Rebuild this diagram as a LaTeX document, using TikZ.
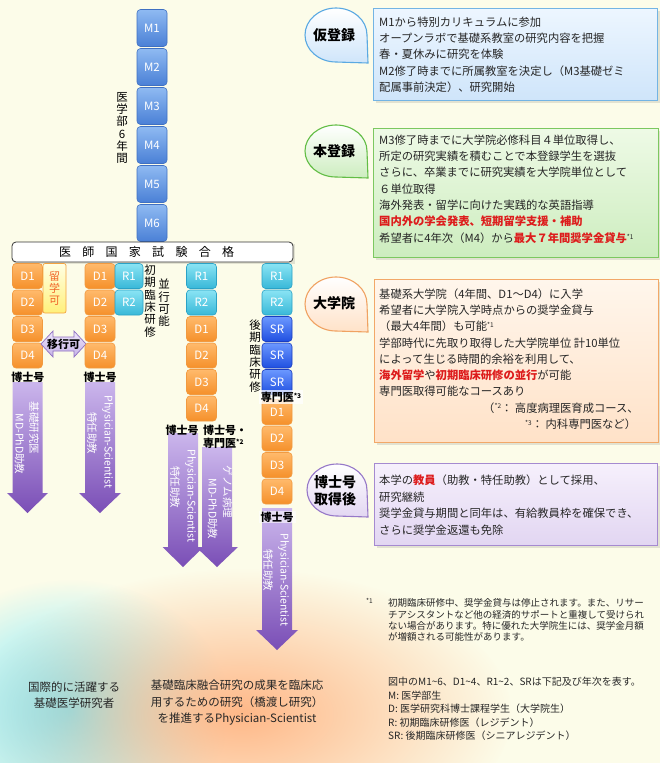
\documentclass[tikz,border=0pt]{standalone}
\usepackage{fontspec}
\setmainfont{Noto Sans CJK JP}
\usetikzlibrary{fadings}
\tikzfading[name=glowfade, inner color=transparent!0, outer color=transparent!100]
\definecolor{bg}{HTML}{FCFCE9}
\definecolor{Mtop}{HTML}{8FBAF2}
\definecolor{Mbot}{HTML}{4A80D6}
\definecolor{Mbd}{HTML}{3F70C2}
\definecolor{Dtop}{HTML}{FFBA6C}
\definecolor{Dbot}{HTML}{F5902A}
\definecolor{Dbd}{HTML}{F19A40}
\definecolor{Rtop}{HTML}{8AE4F4}
\definecolor{Rbot}{HTML}{38B8D8}
\definecolor{Rbd}{HTML}{2AA2C6}
\definecolor{Stop}{HTML}{6C98FF}
\definecolor{Sbot}{HTML}{1F4FE0}
\definecolor{Sbd}{HTML}{1A3CC0}
\definecolor{Ptop}{HTML}{CBB6EC}
\definecolor{Pbot}{HTML}{7A4EB6}
\definecolor{redtx}{HTML}{DD1C1C}
\definecolor{yt}{HTML}{FFFFE4}
\definecolor{yb}{HTML}{FFF07A}
\definecolor{yd}{HTML}{F4A340}
\definecolor{ytx}{HTML}{F06428}
\definecolor{lvt}{HTML}{EEE6FA}
\definecolor{lvb}{HTML}{C5B2E6}
\definecolor{lvd}{HTML}{8E6EC2}
\definecolor{boat}{HTML}{EDF6FF}
\definecolor{boab}{HTML}{CFE5FA}
\definecolor{boad}{HTML}{73B4E4}
\definecolor{bobt}{HTML}{EEFAE6}
\definecolor{bobb}{HTML}{CDEDBF}
\definecolor{bobd}{HTML}{7CC860}
\definecolor{boct}{HTML}{FFF6EC}
\definecolor{bocb}{HTML}{FFE2C8}
\definecolor{bocd}{HTML}{F2A868}
\definecolor{bodt}{HTML}{F6F0FC}
\definecolor{bodb}{HTML}{E2D6F2}
\definecolor{bodd}{HTML}{A58AD0}
\definecolor{bua}{HTML}{5AA9E2}
\definecolor{bub}{HTML}{62BD45}
\definecolor{buc}{HTML}{F0A262}
\definecolor{bud}{HTML}{9678C8}
\definecolor{glowc}{HTML}{70E8FF}
\definecolor{glowo}{HTML}{FFB888}
\newcommand{\fnm}[1]{\raisebox{0.5ex}{\fontsize{6.5}{6.5}\selectfont *#1}}
\newcommand{\redb}[1]{\textcolor{redtx}{\textbf{#1}}}
\newcommand{\bubble}[6]{%
  \path[draw=#6, line width=1.1pt, top color=white, bottom color=#5]
    (#1+#3,#2) arc[start angle=0, end angle=-270, x radius=#3, y radius=#4]
    -- (#1+#3+1,#2+#4+1) -- cycle;}
\begin{document}
\begin{tikzpicture}[x=1pt,y=-1pt,
  every node/.style={inner sep=0pt, text=black!85},
  blk/.style={rounded corners=3.5pt, minimum width=30pt, minimum height=25pt, inner sep=0pt, text=white, font=\fontsize{11.5}{12}\selectfont, line width=0.6pt},
  mblk/.style={blk, minimum height=37pt, top color=Mtop, bottom color=Mbot, draw=Mbd},
  dblk/.style={blk, top color=Dtop, bottom color=Dbot, draw=Dbd},
  rblk/.style={blk, minimum width=28pt, top color=Rtop, bottom color=Rbot, draw=Rbd},
  sblk/.style={blk, top color=Stop, bottom color=Sbot, draw=Sbd},
  vtxt/.style={align=center, font=\fontsize{11.5}{12.3}\selectfont, text=black},
  lbl/.style={font=\bfseries\fontsize{11}{12}\selectfont, text=black},
  atxt/.style={rotate=-90, text=white, font=\fontsize{10.5}{12}\selectfont},
  parrow/.style={top color=Ptop, bottom color=Pbot},
  btxt/.style={anchor=base west, font=\fontsize{11.3}{13}\selectfont},
  bubtxt/.style={font=\bfseries\fontsize{14}{17}\selectfont, text=black, align=center},
  panel/.style={rectangle, line width=0.8pt},
  shadowbox/.style={fill=black, opacity=0.10}
]
% background
\fill[bg] (0,0) rectangle (660,763);
\useasboundingbox (0,0) rectangle (660,763);
\fill[glowc, path fading=glowfade] (70,710) ellipse (160 and 130);
\fill[glowo, path fading=glowfade] (242,714) ellipse (270 and 145);

% M blocks
\foreach \i in {1,...,6} \node[mblk] (m\i) at (152,{28+(\i-1)*39}) {M\i};
\node[vtxt] (medyrs) at (122,128) {医\\学\\部\\6\\年\\間};

% exam bar
\fill[shadowbox] (14,244) rectangle (295,264);
\node[draw=black!80, line width=0.8pt, fill=white, rounded corners=4pt, minimum width=281pt, minimum height=20pt] (bar) at (152.5,252) {};
\foreach \c [count=\k from 0] in {医,師,国,家,試,験,合,格}
  \node[font=\fontsize{12}{12}\selectfont, text=black] (bc\k) at ({65+\k*23.3},252) {\c};

% column 1
\foreach \i/\y in {1/276,2/302.5,3/329,4/355.5} \node[dblk] (a\i) at (27.5,\y) {D\i};
\node[draw=yd, top color=yt, bottom color=yb, rounded corners=2pt, minimum width=23pt, minimum height=49.5pt, line width=0.7pt, text=ytx, font=\fontsize{11}{12}\selectfont, align=center] (abroad) at (54.5,288.3) {留\\学\\可};
\path[draw=lvd, line width=0.7pt, top color=lvt, bottom color=lvb]
  (41,344) -- (53,331) -- (53,337) -- (74,337) -- (74,331) -- (86,344) -- (74,357) -- (74,351) -- (53,351) -- (53,357) -- cycle;
\node[font=\bfseries\fontsize{11}{11}\selectfont, text=black] (shift) at (63.5,344) {移行可};

% column 2
\foreach \i/\y in {1/276,2/302.5,3/329,4/355.5} \node[dblk] (b\i) at (100,\y) {D\i};
\node[rblk] (br1) at (129,276) {R1};
\node[rblk] (br2) at (129,302.5) {R2};
\node[vtxt] (init) at (150,301) {初\\期\\臨\\床\\研\\修};
\node[vtxt] (para) at (164,303) {並\\行\\可\\能};

% column 3
\node[rblk, minimum width=30pt] (cr1) at (201.5,276) {R1};
\node[rblk, minimum width=30pt] (cr2) at (201.5,302.5) {R2};
\foreach \i/\y in {1/329,2/355.5,3/382,4/408.5} \node[dblk] (c\i) at (201.5,\y) {D\i};

% column 4
\node[rblk, minimum width=30pt] (dr1) at (277,276) {R1};
\node[rblk, minimum width=30pt] (dr2) at (277,302.5) {R2};
\foreach \i/\y in {1/329,2/355.5,3/382} \node[sblk] (ds\i) at (277,\y) {SR};
\foreach \i/\y in {1/412,2/438.5,3/465,4/491.5} \node[dblk] (d\i) at (277,\y) {D\i};
\node[vtxt] (late) at (255,356) {後\\期\\臨\\床\\研\\修};
\node[lbl, fill=white, fill opacity=0.75, text opacity=1, inner xsep=2pt, inner ysep=1.5pt] (spec3) at (281,397) {専門医\fnm{3}};

% purple arrows
\path[parrow] (12.5,382) -- (42.5,382) -- (42.5,493) -- (48,493) -- (27.5,513) -- (7,493) -- (12.5,493) -- cycle;
\path[parrow] (85,382) -- (115,382) -- (115,493) -- (121,493) -- (100,513) -- (79,493) -- (85,493) -- cycle;
\path[parrow] (202,447) -- (232,447) -- (232,547) -- (238,547) -- (217,567) -- (196,547) -- (202,547) -- cycle;
\path[parrow] (168,433) -- (198,433) -- (198,547) -- (203.5,547) -- (183,567) -- (162.5,547) -- (168,547) -- cycle;
\path[parrow] (262,508) -- (292,508) -- (292,630) -- (298,630) -- (277,650) -- (256,630) -- (262,630) -- cycle;

\node[atxt] (a1t1) at (34,428) {基礎研究医};
\node[atxt] (a1t2) at (19.5,444) {MD-PhD助教};
\node[atxt] (a2t1) at (107.5,442) {Physician-Scientist};
\node[atxt] (a2t2) at (92,433) {特任助教};
\node[atxt] (a3t1) at (190.5,496) {Physician-Scientist};
\node[atxt] (a3t2) at (175,487) {特任助教};
\node[atxt] (a4t1) at (227.5,492) {ゲノム病理};
\node[atxt] (a4t2) at (212.5,509) {MD-PhD助教};
\node[atxt] (a5t1) at (283.5,580) {Physician-Scientist};
\node[atxt] (a5t2) at (268,570) {特任助教};

\node[lbl] (phd1) at (28,377) {博士号};
\node[lbl] (phd2) at (100,377) {博士号};
\node[lbl] (phd3) at (182,430) {博士号};
\node[lbl, anchor=west] (phd4) at (203,430) {博士号・};
\node[lbl, anchor=west] (spec2) at (203,443) {専門医\fnm{2}};
\node[lbl, fill=white, fill opacity=0.6, text opacity=1, inner xsep=2pt, inner ysep=1pt] (phd5) at (277,517) {博士号};

% right panels
\fill[shadowbox] (375.5,10.5) rectangle (659.5,102.5);
\node[panel, draw=boad, top color=boat, bottom color=boab, minimum width=284pt, minimum height=92pt] (box1) at (515,54) {};
\fill[shadowbox] (375.5,130.5) rectangle (660.5,259.5);
\node[panel, draw=bobd, top color=bobt, bottom color=bobb, minimum width=285pt, minimum height=129pt] (box2) at (515.5,192.5) {};
\fill[shadowbox] (376.5,281.5) rectangle (660.5,444.5);
\node[panel, draw=bocd, top color=boct, bottom color=bocb, minimum width=284pt, minimum height=163pt] (box3) at (516,360.5) {};
\fill[shadowbox] (376.5,465.5) rectangle (659.5,547.5);
\node[panel, draw=bodd, top color=bodt, bottom color=bodb, minimum width=283pt, minimum height=82pt] (box4) at (515.5,504) {};

\bubble{336}{35}{31}{27}{boab}{bua}
\bubble{336}{151}{31}{26}{bobb}{bub}
\bubble{336}{304}{31}{27}{bocb}{buc}
\bubble{337}{490}{30}{26}{bodb}{bud}
\node[bubtxt] (bt1) at (334,35) {仮登録};
\node[bubtxt] (bt2) at (334,151) {本登録};
\node[bubtxt] (bt3) at (334,303) {大学院};
\node[bubtxt] (bt4) at (335,491) {博士号\\取得後};

\foreach \tx [count=\i] in {{M1から特別カリキュラムに参加},{オープンラボで基礎系教室の研究内容を把握},{春・夏休みに研究を体験},{M2修了時までに所属教室を決定し（M3基礎ゼミ},{配属事前決定）、研究開始}}
  \node[btxt] (ta\i) at (379,{26.3+(\i-1)*16.25}) {\tx};

\foreach \tx [count=\i] in {{M3修了時までに大学院必修科目４単位取得し、},{所定の研究実績を積むことで本登録学生を選抜},{さらに、卒業までに研究実績を大学院単位として},{６単位取得},{海外発表・留学に向けた実践的な英語指導},{\redb{国内外の学会発表、短期留学支援・補助}},{希望者に4年次（M4）から\redb{最大７年間奨学金貸与}\fnm{1}}}
  \node[btxt] (tb\i) at (379,{144.3+(\i-1)*16.3}) {\tx};

\foreach \tx [count=\i] in {{基礎系大学院（4年間、D1～D4）に入学},{希望者に大学院入学時点からの奨学金貸与},{（最大4年間）も可能\fnm{1}},{学部時代に先取り取得した大学院単位 計10単位},{によって生じる時間的余裕を利用して、},{\redb{海外留学}や\redb{初期臨床研修の並行}が可能},{専門医取得可能なコースあり},{\hspace*{104pt}（\fnm{2}： 高度病理医育成コース、},{\hspace*{146pt}\fnm{3}： 内科専門医など）}}
  \node[btxt] (tc\i) at (379,{298.3+(\i-1)*16.25}) {\tx};

\foreach \tx [count=\i] in {{本学の\redb{教員}（助教・特任助教）として採用、},{研究継続},{奨学金貸与期間と同年は、有給教員枠を確保でき、},{さらに奨学金返還も免除}}
  \node[btxt] (td\i) at (379,{484.3+(\i-1)*16.7}) {\tx};

% footnote
\node[anchor=base west, font=\fontsize{6.5}{7}\selectfont] (fnmark) at (366,603) {*1};
\foreach \tx [count=\i] in {{初期臨床研修中、奨学金貸与は停止されます。また、リサー},{チアシスタントなど他の経済的サポートと重複して受けられ},{ない場合があります。特に優れた大学院生には、奨学金月額},{が増額される可能性があります。}}
  \node[anchor=base west, font=\fontsize{9.5}{11}\selectfont] (fn\i) at (388,{606.6+(\i-1)*11.4}) {\tx};

% bottom
\node[font=\fontsize{11.5}{16.5}\selectfont, align=center] (res1) at (74,695) {国際的に活躍する\\基礎医学研究者};
\node[font=\fontsize{11.5}{16.5}\selectfont, align=center] (res2) at (237,703) {基礎臨床融合研究の成果を臨床応\\用するための研究（橋渡し研究）\\を推進するPhysician-Scientist};
\foreach \tx [count=\i] in {{図中のM1\textasciitilde 6、D1\textasciitilde 4、R1\textasciitilde 2、SRは下記及び年次を表す。},{M: 医学部生},{D: 医学研究科博士課程学生（大学院生）},{R: 初期臨床研修医（レジデント）},{SR: 後期臨床研修医（シニアレジデント）}}
  \node[anchor=base west, font=\fontsize{10}{12}\selectfont] (lg\i) at (388,{685.5+(\i-1)*13.5}) {\tx};
\end{tikzpicture}
\end{document}
